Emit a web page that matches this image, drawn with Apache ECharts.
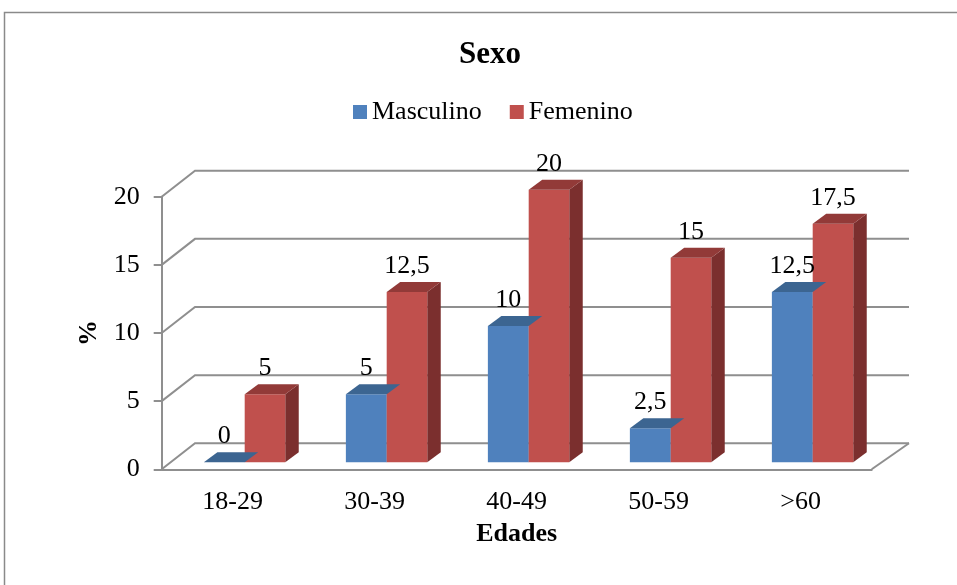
<!DOCTYPE html>
<html>
<head>
<meta charset="utf-8">
<script src="https://cdn.jsdelivr.net/npm/echarts@6/dist/echarts.min.js"></script>
<style>
  html, body { margin: 0; padding: 0; background: #fff; }
  #chart { width: 957px; height: 585px; }
</style>
</head>
<body>
<div id="chart"></div>
<script>
// Age groups and percentages by sex
const categories = ['18-29', '30-39', '40-49', '50-59', '>60'];
const masculino = [0, 5, 10, 2.5, 12.5];
const femenino = [5, 12.5, 20, 15, 17.5];
const yTicks = [0, 5, 10, 15, 20];

const FONT = '"Liberation Serif", "Times New Roman", serif';
const GRID_COLOR = '#8f8f8f';

// 3D look: back wall offset, bar plane offset, bar depth
const WALL = { dx: 33.3, dy: -26 };
const BAR_PLANE_DY = -7;
const BAR_DEPTH = { dx: 13.5, dy: -10 };

const fmt = v => String(v).replace('.', ',');

// Back wall gridlines with the diagonal links to the front axis ticks
function wallRenderer(params, api) {
  const cs = params.coordSys;
  const y = api.coord([0, api.value(1)])[1];
  const x0 = cs.x;
  const xBackRight = cs.x + cs.width + WALL.dx + 4;
  const children = [{
    type: 'polyline',
    shape: { points: [[x0, y], [x0 + WALL.dx, y + WALL.dy], [xBackRight, y + WALL.dy]] },
    style: { stroke: GRID_COLOR, lineWidth: 2, fill: null }
  }];
  if (api.value(1) === 0) {
    // right edge of the floor
    const xr = cs.x + cs.width;
    children.push({
      type: 'line',
      shape: { x1: xr, y1: y, x2: xBackRight, y2: y + WALL.dy },
      style: { stroke: GRID_COLOR, lineWidth: 2 }
    });
  }
  return { type: 'group', children };
}

// A 3D-looking bar: front face, side face and top face, with its value above
function barRenderer(x0frac, x1frac, front, top, side) {
  return function (params, api) {
    const ci = api.value(0), v = api.value(1);
    const base = api.coord([ci, 0]);
    const tp = api.coord([ci, v]);
    const band = api.size([1, 0])[0];
    const xl = base[0] + band * x0frac;
    const xr = base[0] + band * x1frac;
    const yb = base[1] + BAR_PLANE_DY;
    const yt = tp[1] + BAR_PLANE_DY;
    const dx = BAR_DEPTH.dx, dy = BAR_DEPTH.dy;
    return {
      type: 'group',
      children: [
        { type: 'polygon', z2: 1,
          shape: { points: [[xr, yt], [xr + dx, yt + dy], [xr + dx, yb + dy], [xr, yb]] },
          style: { fill: side } },
        { type: 'polygon', z2: 2,
          shape: { points: [[xl, yt], [xr, yt], [xr, yb], [xl, yb]] },
          style: { fill: front } },
        { type: 'polygon', z2: 3,
          shape: { points: [[xl, yt], [xl + dx, yt + dy], [xr + dx, yt + dy], [xr, yt]] },
          style: { fill: top } },
        { type: 'text', z2: 100,
          x: (xl + xr) / 2, y: yt - 26,
          style: { text: fmt(v), fill: '#000', fontSize: 26, fontFamily: FONT,
                   align: 'center', verticalAlign: 'middle' } }
      ]
    };
  };
}

const chart = echarts.init(document.getElementById('chart'), null, { renderer: 'canvas' });

chart.setOption({
  animation: false,
  backgroundColor: '#fff',
  title: {
    text: 'Sexo',
    left: 485, top: 34, textAlign: 'center',
    textStyle: { fontFamily: FONT, fontSize: 31, fontWeight: 'bold', color: '#000' }
  },
  legend: {
    data: ['Masculino', 'Femenino'],
    left: 353, top: 99, padding: 0,
    itemWidth: 14, itemHeight: 14, itemGap: 28,
    icon: 'rect',
    textStyle: { fontFamily: FONT, fontSize: 26, color: '#000' }
  },
  grid: { left: 161.7, right: 85.3, top: 196.7, bottom: 115.7, containLabel: false },
  xAxis: {
    type: 'category',
    data: categories,
    name: 'Edades',
    nameLocation: 'middle',
    nameGap: 52,
    nameTextStyle: { fontFamily: FONT, fontSize: 26, fontWeight: 'bold', color: '#000' },
    axisLine: { show: true, lineStyle: { color: GRID_COLOR, width: 2 } },
    axisTick: { show: false },
    axisLabel: { fontFamily: FONT, fontSize: 26, color: '#000', margin: 20 },
    splitLine: { show: false }
  },
  yAxis: {
    type: 'value',
    min: 0, max: 20, interval: 5,
    name: '%',
    nameLocation: 'middle',
    nameRotate: 90,
    nameGap: 59,
    nameTextStyle: { fontFamily: FONT, fontSize: 26, fontWeight: 'bold', color: '#000' },
    axisLine: { show: true, lineStyle: { color: GRID_COLOR, width: 2 } },
    axisTick: { show: true, inside: false, length: 8, lineStyle: { color: GRID_COLOR, width: 2 } },
    axisLabel: { fontFamily: FONT, fontSize: 26, color: '#000', margin: 22 },
    splitLine: { show: false }
  },
  graphic: [{
    type: 'rect',
    shape: { x: 4.5, y: 12.5, width: 1000, height: 1000 },
    style: { fill: null, stroke: '#8a8a8a', lineWidth: 1.5 },
    silent: true
  }],
  series: [
    {
      type: 'custom',
      name: 'wall',
      silent: true,
      z: 1,
      renderItem: wallRenderer,
      data: yTicks.map(v => [0, v])
    },
    {
      type: 'custom',
      name: 'Masculino',
      color: '#4F81BD',
      z: 2,
      renderItem: barRenderer(-0.203, 0.0845, '#4F81BD', '#3C6591', '#385D8A'),
      data: masculino.map((v, i) => [i, v])
    },
    {
      type: 'custom',
      name: 'Femenino',
      color: '#C0504D',
      z: 2,
      renderItem: barRenderer(0.0845, 0.37, '#C0504D', '#923A38', '#7B2F2E'),
      data: femenino.map((v, i) => [i, v])
    }
  ]
});
</script>
</body>
</html>
